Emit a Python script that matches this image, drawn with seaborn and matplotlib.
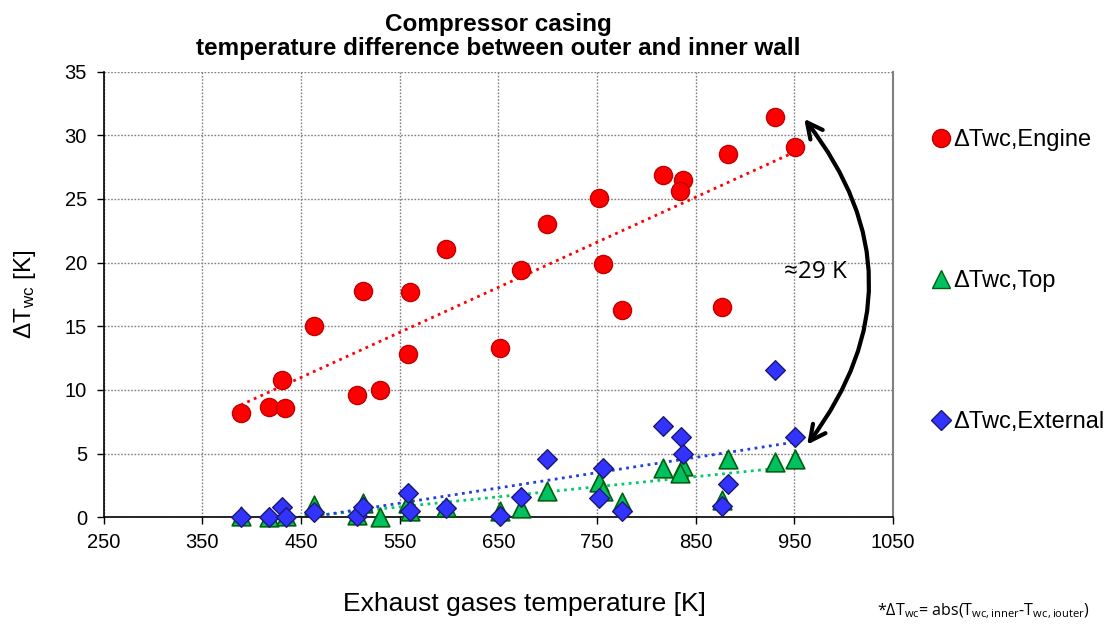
import numpy as np
import pandas as pd
import matplotlib
matplotlib.use("Agg")
import matplotlib.pyplot as plt
import seaborn as sns
from matplotlib.lines import Line2D

# ---- data ----
engine_T = [389, 418, 434, 431, 463, 507, 530, 513, 561, 559, 597, 652, 673, 699,
            752, 756, 775, 817, 837, 834, 883, 877, 930, 951]
engine_dT = [8.2, 8.7, 8.6, 10.8, 15.0, 9.6, 10.0, 17.8, 17.7, 12.8, 21.1, 13.3, 19.4, 23.0,
             25.1, 19.9, 16.3, 26.9, 26.5, 25.6, 28.5, 16.5, 31.4, 29.1]

top_T = [389, 418, 435, 463, 507, 513, 530, 559, 561, 597, 652, 673, 699,
         752, 756, 775, 817, 837, 834, 883, 877, 930, 951]
top_dT = [0.1, 0.05, 0.1, 0.95, 0.2, 1.1, 0.05, 1.1, 0.5, 0.8, 0.5, 0.7, 2.1,
          2.8, 2.1, 1.2, 3.9, 4.0, 3.45, 4.6, 1.35, 4.35, 4.6]

ext_T = [389, 418, 431, 435, 463, 507, 513, 559, 561, 597, 652, 673, 699,
         756, 752, 775, 817, 835, 837, 883, 877, 930, 951]
ext_dT = [0.0, 0.0, 0.83, 0.05, 0.45, 0.1, 0.78, 1.9, 0.5, 0.7, 0.1, 1.6, 4.6,
          3.9, 1.5, 0.5, 7.2, 6.3, 4.95, 2.6, 0.85, 11.6, 6.3]

labels = ["\u0394Twc,Engine", "\u0394Twc,Top", "\u0394Twc,External"]
x_ticks = [250, 350, 450, 550, 650, 750, 850, 950, 1050]
y_ticks = [0, 5, 10, 15, 20, 25, 30, 35]

sns.set_theme(style="white")
plt.rcParams['font.family'] = ['Liberation Sans', 'DejaVu Sans']
plt.rcParams['mathtext.default'] = 'regular'
for k in ["text.color", "axes.labelcolor", "xtick.color", "ytick.color"]:
    plt.rcParams[k] = "black"

fig = plt.figure(figsize=(11.1, 6.32), dpi=100)
ax = fig.add_axes([0.0933, 0.1815, 0.7112, 0.7052])

df_e = pd.DataFrame({"T": engine_T, "dT": engine_dT})
df_t = pd.DataFrame({"T": top_T, "dT": top_dT})
df_x = pd.DataFrame({"T": ext_T, "dT": ext_dT})

# trend lines
sns.regplot(data=df_e, x="T", y="dT", scatter=False, ci=None, ax=ax,
            line_kws=dict(color="#FF0000", lw=2, ls=(0, (1, 1.6))))
sns.regplot(data=df_t, x="T", y="dT", scatter=False, ci=None, ax=ax,
            line_kws=dict(color="#00CC66", lw=2, ls=(0, (1, 1.6))))
sns.regplot(data=df_x, x="T", y="dT", scatter=False, ci=None, ax=ax,
            line_kws=dict(color="#1F3FE0", lw=2, ls=(0, (1, 1.6))))

# scatter
sns.scatterplot(data=df_e, x="T", y="dT", ax=ax, marker="o", s=170,
                color="#FF0000", edgecolor="#C00000", linewidth=1, clip_on=False, zorder=3)
sns.scatterplot(data=df_t, x="T", y="dT", ax=ax, marker="^", s=180,
                color="#00C060", edgecolor="#006010", linewidth=1.2, clip_on=False, zorder=4)
sns.scatterplot(data=df_x, x="T", y="dT", ax=ax, marker="D", s=100,
                color="#3333FF", edgecolor="#1A1A70", linewidth=1, clip_on=False, zorder=5)

ax.set_xlim(250, 1050)
ax.set_ylim(0, 35)
ax.set_xticks(x_ticks)
ax.set_yticks(y_ticks)
ax.tick_params(axis="both", labelsize=14.5, direction="out", length=5, width=1,
               color="black", bottom=True, left=True)
ax.tick_params(axis="x", pad=6)
ax.tick_params(axis="y", pad=7)
ax.grid(True, color="#808080", ls=(0, (1.2, 1.2)), lw=1)
ax.set_axisbelow(True)
for s in ["left", "bottom"]:
    ax.spines[s].set_color("black")
    ax.spines[s].set_linewidth(1.2)
ax.spines["top"].set_visible(False)
ax.spines["right"].set_color("#808080")
ax.spines["right"].set_linewidth(1.5)

ax.set_xlabel("Exhaust gases temperature [K]", fontsize=19)
ax.xaxis.set_label_coords(0.533, -0.168)
ax.set_ylabel("\u0394T$_{wc}$ [K]", fontsize=17.5)
ax.yaxis.set_label_coords(-0.083, 0.5)

ax.set_title("Compressor casing\ntemperature difference between outer and inner wall",
             fontsize=17.5, fontweight="bold", pad=12, linespacing=1.05)

# curved arrow
ax.annotate("", xy=(960, 31.3), xytext=(963, 5.7),
            arrowprops=dict(arrowstyle="<->", lw=3, color="black",
                            connectionstyle="arc3,rad=0.38", mutation_scale=28,
                            shrinkA=0, shrinkB=0))
ax.text(940, 19.25, "\u224829 K", fontsize=17.5, family=['Open Sans', 'DejaVu Sans'],
        va="center", ha="left")

# legend
handles = [
    Line2D([], [], ls="none", marker="o", ms=13, mfc="#FF0000", mec="#C00000"),
    Line2D([], [], ls="none", marker="^", ms=13, mfc="#00C060", mec="#006010"),
    Line2D([], [], ls="none", marker="D", ms=10, mfc="#3333FF", mec="#1A1A70"),
]
leg = fig.legend(handles, labels, loc="upper left", bbox_to_anchor=(0.832, 0.811),
                 frameon=False, fontsize=17, handlelength=0.7, handletextpad=0.15,
                 labelspacing=5.05, borderaxespad=0)

fig.text(0.982, 0.018,
         "*\u0394T$_{wc}$= abs(T$_{wc,inner}$-T$_{wc,iouter}$)",
         ha="right", va="bottom", fontsize=11.5, family=['Open Sans', 'DejaVu Sans'])

fig.savefig("out.png", dpi=100)
